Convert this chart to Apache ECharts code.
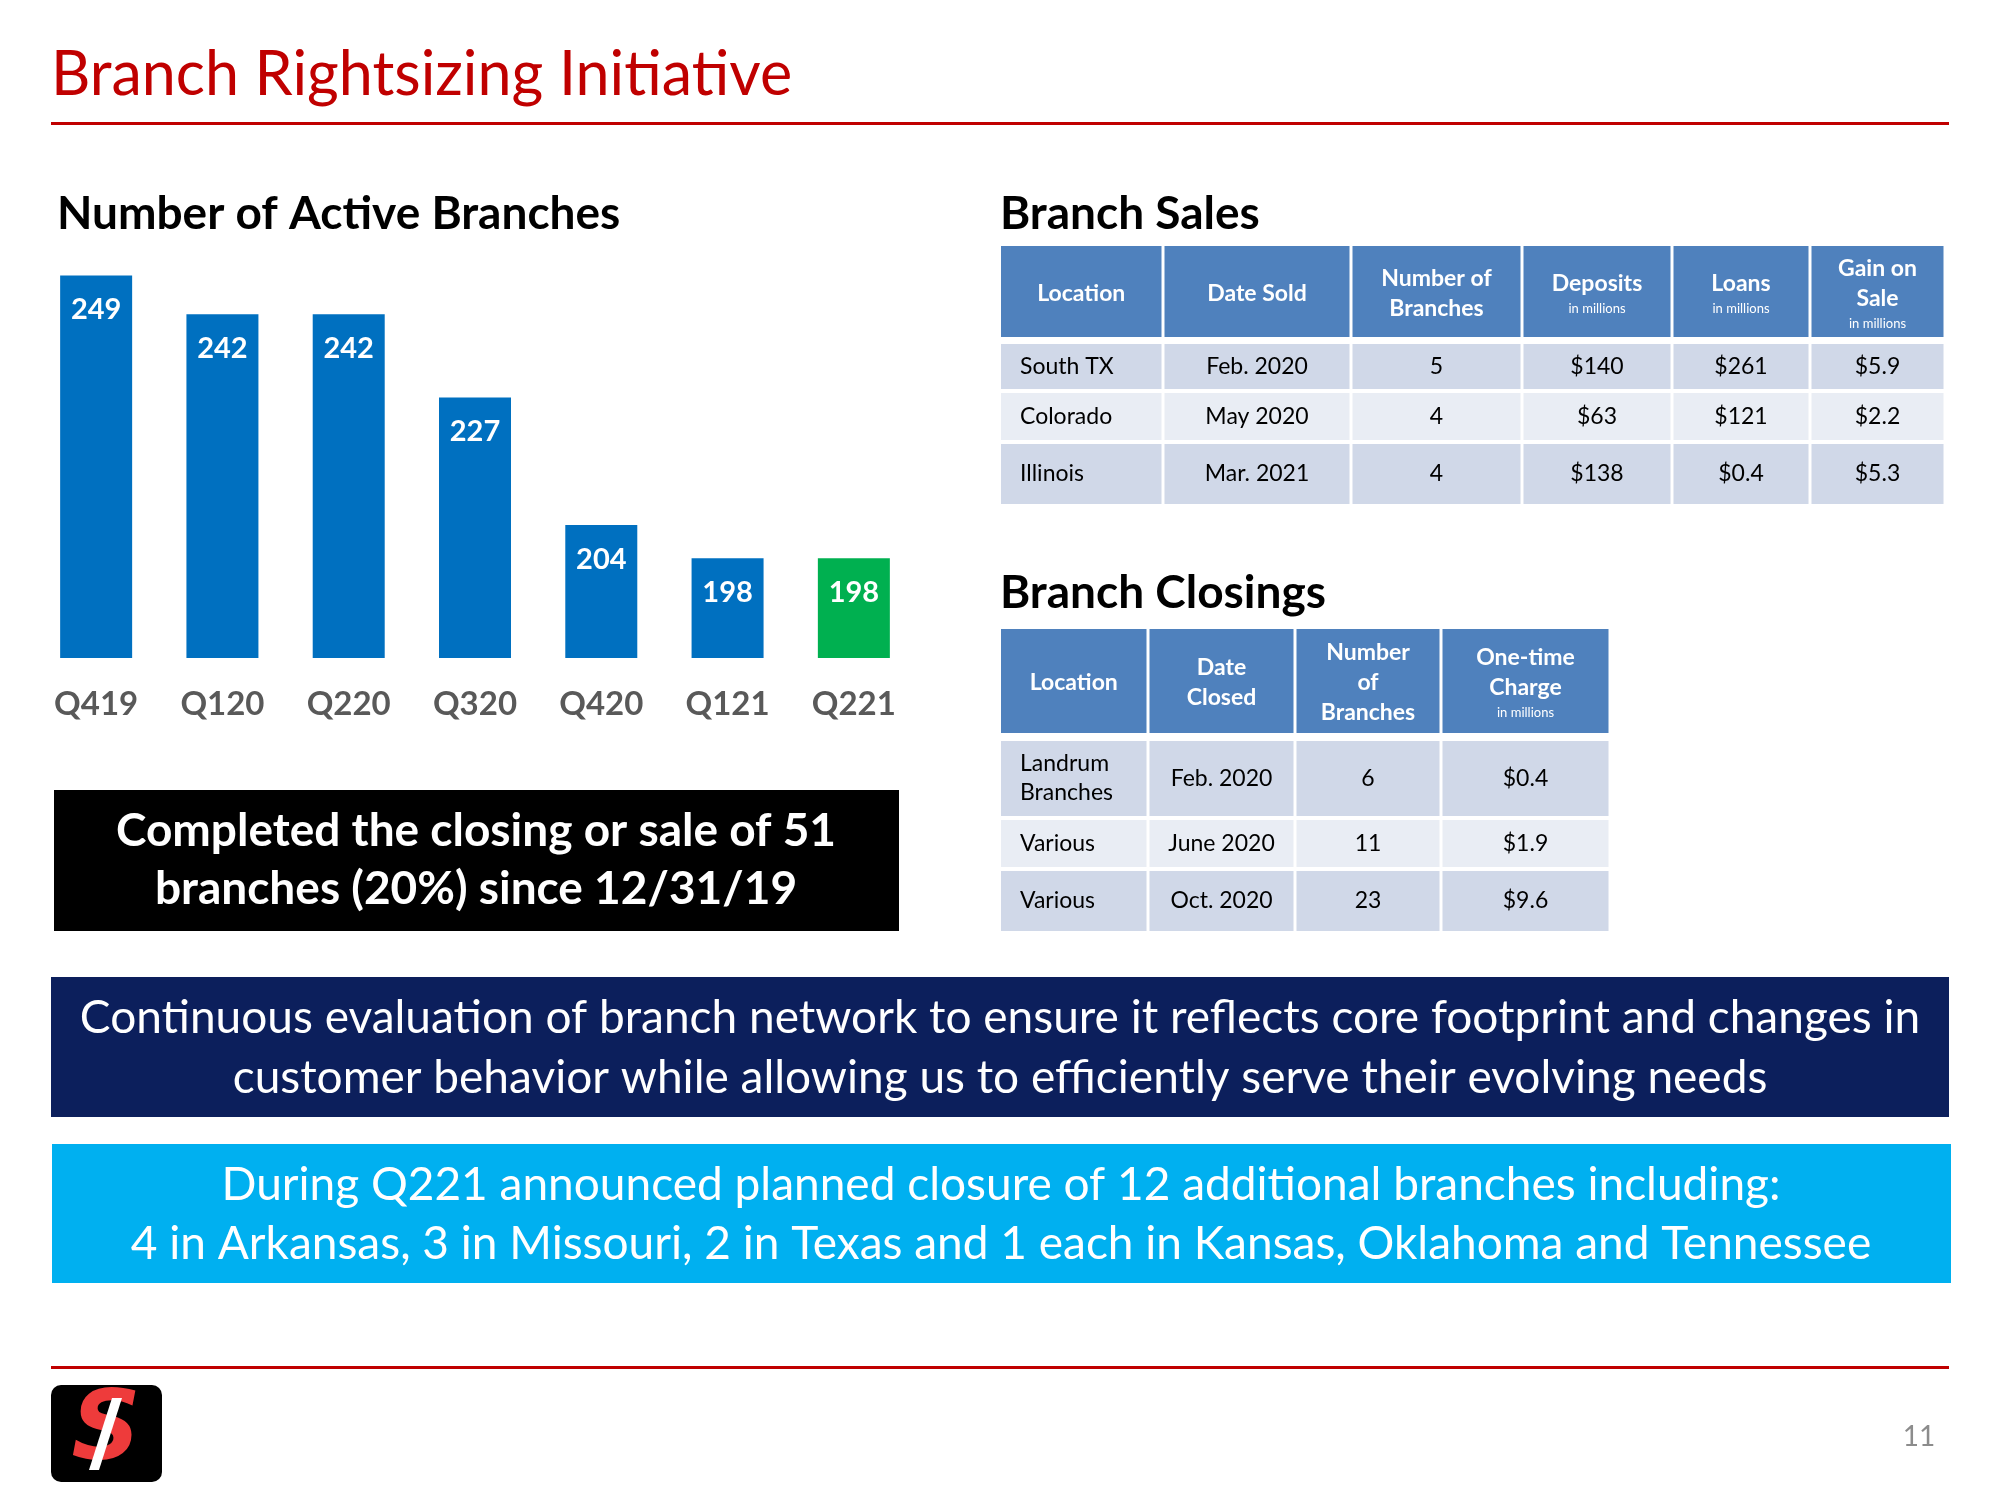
<!DOCTYPE html>
<html>
<head>
<meta charset="utf-8">
<script src="https://cdn.jsdelivr.net/npm/echarts@6/dist/echarts.min.js"></script>
<style>
html,body{margin:0;padding:0;background:#fff;}
#main{width:2000px;height:1500px;}
</style>
</head>
<body>
<div id="main"></div>
<script>
// ---------- DATA ----------
const quarters = ['Q419','Q120','Q220','Q320','Q420','Q121','Q221'];
const activeBranches = [249, 242, 242, 227, 204, 198, 198];
const highlightQuarter = 'Q221';

const salesHeaders = ['Location','Date Sold','Number of\nBranches','Deposits','Loans','Gain on\nSale'];
const salesHeaderNotes = ['','','','in millions','in millions','in millions'];
const salesLocations = ['South TX','Colorado','Illinois'];
const salesDates = ['Feb. 2020','May 2020','Mar. 2021'];
const salesCounts = [5, 4, 4];
const salesDeposits = ['$140','$63','$138'];
const salesLoans = ['$261','$121','$0.4'];
const salesGain = ['$5.9','$2.2','$5.3'];

const closingHeaders = ['Location','Date\nClosed','Number\nof\nBranches','One-time\nCharge'];
const closingHeaderNotes = ['','','','in millions'];
const closingLocations = ['Landrum\nBranches','Various','Various'];
const closingDates = ['Feb. 2020','June 2020','Oct. 2020'];
const closingCounts = [6, 11, 23];
const closingCharges = ['$0.4','$1.9','$9.6'];

const titleText = 'Branch Rightsizing Initiative';
const chartHeading = 'Number of Active Branches';
const salesHeading = 'Branch Sales';
const closingHeading = 'Branch Closings';
const summaryText = ['Completed the closing or sale of 51','branches (20%) since 12/31/19'];
const navyText = ['Continuous evaluation of branch network to ensure it reflects core footprint and changes in','customer behavior while allowing us to efficiently serve their evolving needs'];
const cyanText = ['During Q221 announced planned closure of 12 additional branches including:','4 in Arkansas, 3 in Missouri, 2 in Texas and 1 each in Kansas, Oklahoma and Tennessee'];
const pageNumber = '11';

// ---------- STYLE / LAYOUT ----------
const FONT = 'Lato, "Open Sans", sans-serif';
const BLUE = '#0070C0', GREEN = '#00B050';
const HEAD = '#4F81BD', ROW_A = '#D0D8E8', ROW_B = '#E9EDF4';

const salesCols = [1001, 1163, 1351, 1522, 1672, 1810, 1945];
const salesRowsY = [[246,337],[344,389],[393,440],[444,504]];
const closeCols = [1001, 1148, 1295, 1441, 1610];
const closeRowsY = [[629,733],[741,816],[820,867],[871,931]];

function T(text, x, y, opt) {
  opt = opt || {};
  const st = Object.assign({
    text: text, x: x, y: y,
    fill: '#000', fontFamily: FONT, fontSize: 20, fontWeight: 'normal',
    align: opt.align || 'left', verticalAlign: 'middle',
    textAlign: opt.align || 'left', textVerticalAlign: 'middle'
  }, opt);
  delete st.z;
  return {type:'text', z: opt.z || 10, silent:true, style: st};
}
function R(x, y, w, h, fill, r) {
  return {type:'rect', z: 5, silent:true, shape:{x:x,y:y,width:w,height:h,r:r||0}, style:{fill:fill}};
}

const g = [];
// Title & rules
g.push(T(titleText, 51, 75, {fontSize: 61, fill:'#C00000'}));
g.push(R(51, 122, 1898, 3, '#C00000'));
g.push(R(51, 1366, 1898, 3, '#C00000'));

// Headings
g.push(T(chartHeading, 57, 214, {fontSize: 46, fontWeight:'bold'}));
g.push(T(salesHeading, 1000, 214, {fontSize: 46, fontWeight:'bold'}));
g.push(T(closingHeading, 1000, 593, {fontSize: 46, fontWeight:'bold'}));

// Black summary box
g.push(R(54, 790, 845, 141, '#000'));
g.push(T(summaryText[0], 476, 831, {fontSize: 46, fontWeight:'bold', fill:'#fff', align:'center'}));
g.push(T(summaryText[1], 476, 889, {fontSize: 46, fontWeight:'bold', fill:'#fff', align:'center'}));

// Navy box
g.push(R(51, 977, 1898, 140, '#0C1F5C'));
g.push(T(navyText[0], 1000, 1018, {fontSize: 46, fill:'#fff', align:'center'}));
g.push(T(navyText[1], 1000, 1078, {fontSize: 46, fill:'#fff', align:'center'}));

// Cyan box
g.push(R(52, 1144, 1899, 139, '#00B0F0'));
g.push(T(cyanText[0], 1001, 1185, {fontSize: 46, fill:'#fff', align:'center'}));
g.push(T(cyanText[1], 1001, 1244, {fontSize: 46, fill:'#fff', align:'center'}));

// Page number
g.push(T(pageNumber, 1919, 1437, {fontSize: 28, fill:'#8C8C8C', align:'center'}));

// Logo
g.push({type:'rect', z:5, silent:true, shape:{x:51,y:1385,width:111,height:97,r:10}, style:{fill:'#000'}});
g.push({type:'text', z:10, silent:true, style:{text:'S', x:106, y:1434, fill:'#EE3B3B', fontFamily:'"DejaVu Sans", sans-serif', fontSize:96, fontWeight:'bold', fontStyle:'italic', align:'center', verticalAlign:'middle', textAlign:'center', textVerticalAlign:'middle'}});
g.push({type:'polygon', z:11, silent:true, shape:{points:[[112,1398],[122,1398],[99,1470],[89,1470]]}, style:{fill:'#fff'}});

// Generic table builder
function buildTable(cols, rowsY, headers, notes, rows) {
  const gap = 3;
  for (let c = 0; c < headers.length; c++) {
    const x0 = cols[c] + (c === 0 ? 0 : gap/2), x1 = cols[c+1] - gap/2;
    const y0 = rowsY[0][0], y1 = rowsY[0][1];
    g.push(R(x0, y0, x1 - x0, y1 - y0, HEAD));
    const lines = headers[c].split('\n').map(s => '{m|' + s + '}');
    if (notes[c]) lines.push('{s|' + notes[c] + '}');
    g.push({type:'text', z:10, silent:true, style:{
      text: lines.join('\n'), x:(x0+x1)/2, y:(y0+y1)/2 + 2,
      align:'center', verticalAlign:'middle', textAlign:'center', textVerticalAlign:'middle',
      fontFamily: FONT,
      rich:{
        m:{fill:'#fff', fontFamily:FONT, fontSize:23, fontWeight:'bold', lineHeight:30},
        s:{fill:'#fff', fontFamily:FONT, fontSize:13, lineHeight:20}
      }
    }});
  }
  for (let r = 0; r < rows.length; r++) {
    const y0 = rowsY[r+1][0], y1 = rowsY[r+1][1];
    const fill = (r % 2 === 0) ? ROW_A : ROW_B;
    for (let c = 0; c < rows[r].length; c++) {
      const x0 = cols[c] + (c === 0 ? 0 : gap/2), x1 = cols[c+1] - gap/2;
      g.push(R(x0, y0, x1 - x0, y1 - y0, fill));
      const val = String(rows[r][c]);
      if (c === 0) {
        g.push(T(val, x0 + 19, (y0+y1)/2, {fontSize:23, lineHeight:29}));
      } else {
        g.push(T(val, (x0+x1)/2, (y0+y1)/2, {fontSize:23, align:'center', lineHeight:29}));
      }
    }
  }
}
const salesRows = salesLocations.map((l,i) => [l, salesDates[i], salesCounts[i], salesDeposits[i], salesLoans[i], salesGain[i]]);
const closeRows = closingLocations.map((l,i) => [l, closingDates[i], closingCounts[i], closingCharges[i]]);
buildTable(salesCols, salesRowsY, salesHeaders, salesHeaderNotes, salesRows);
buildTable(closeCols, closeRowsY, closingHeaders, closingHeaderNotes, closeRows);

const chart = echarts.init(document.getElementById('main'), null, {renderer:'canvas'});
chart.setOption({
  backgroundColor:'#fff',
  animation:false,
  grid:{left:33, width:884, top:270, height:388, containLabel:false, outerBoundsMode:'none'},
  xAxis:{
    type:'category', data:quarters,
    axisLine:{show:false}, axisTick:{show:false},
    axisLabel:{color:'#595959', fontFamily:FONT, fontWeight:'bold', fontSize:33, margin:30}
  },
  yAxis:{type:'value', min:180, max:250, show:false, splitLine:{show:false}},
  series:[{
    type:'bar', barWidth:72,
    data: activeBranches.map((v,i) => ({value:v, itemStyle:{color: quarters[i] === highlightQuarter ? GREEN : BLUE}})),
    label:{show:true, position:'insideTop', distance:20, color:'#fff', fontFamily:FONT, fontWeight:'bold', fontSize:29}
  }],
  graphic: g
});
</script>
</body>
</html>
